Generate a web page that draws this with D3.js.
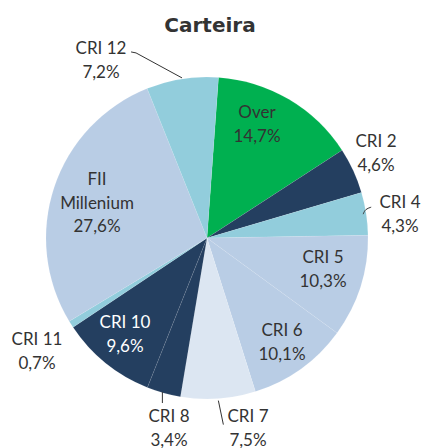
<!DOCTYPE html>
<html>
<head>
<meta charset="utf-8">
<script src="https://cdn.jsdelivr.net/npm/d3@7"></script>
<style>
  body { margin: 0; background: #fff; }
  text { font-family: Lato, "Open Sans", sans-serif; fill: #333; }
</style>
</head>
<body>
<script>
// Carteira - pie
var labels = ["Over", "CRI 2", "CRI 4", "CRI 5", "CRI 6", "CRI 7", "CRI 8", "CRI 10", "CRI 11", "FII Millenium", "CRI 12"];
var values = [14.7, 4.6, 4.3, 10.3, 10.1, 7.5, 3.4, 9.6, 0.7, 27.6, 7.2];
var valueText = ["14,7%", "4,6%", "4,3%", "10,3%", "10,1%", "7,5%", "3,4%", "9,6%", "0,7%", "27,6%", "7,2%"];

var palette = ["#00b050", "#243f60", "#92cddc", "#b9cde5", "#b9cde5", "#dce6f2", "#243f60", "#243f60", "#92cddc", "#b9cde5", "#92cddc"];

var width = 427, height = 448;
var cx = 207, cy = 238, r = 161;
var startDeg = 4.1;

// label placement, relative to the pie centre (first baseline)
var labelPos = {
  "Over":          [50, -120, "#333"],
  "CRI 2":         [169, -91, "#333"],
  "CRI 4":         [193, -30, "#333"],
  "CRI 5":         [116, 25, "#333"],
  "CRI 6":         [75, 98, "#333"],
  "CRI 7":         [41, 184, "#333"],
  "CRI 8":         [-38, 184, "#333"],
  "CRI 10":        [-82, 90, "#fff"],
  "CRI 11":        [-170, 107, "#333"],
  "FII Millenium": [-110, -53, "#333"],
  "CRI 12":        [-106, -184, "#333"]
};

var color = d3.scaleOrdinal(labels, palette);

var svg = d3.select("body").append("svg")
  .attr("width", width)
  .attr("height", height);

svg.append("text")
  .attr("x", 210)
  .attr("y", 32)
  .attr("text-anchor", "middle")
  .style("font-family", "'DejaVu Sans', sans-serif")
  .style("font-weight", "bold")
  .style("font-size", "20px")
  .style("fill", "#333")
  .text("Carteira");

var data = labels.map(function (d, i) { return { label: d, value: values[i], pct: valueText[i] }; });

var pie = d3.pie()
  .value(function (d) { return d.value; })
  .sort(null)
  .startAngle(startDeg * Math.PI / 180)
  .endAngle(startDeg * Math.PI / 180 + 2 * Math.PI);

var arcs = pie(data);

var arc = d3.arc().innerRadius(0).outerRadius(r);
var edge = function (rad) { return d3.arc().innerRadius(rad).outerRadius(rad); };

var g = svg.append("g").attr("transform", "translate(" + cx + "," + cy + ")");

g.selectAll("path.slice")
  .data(arcs)
  .enter()
  .append("path")
  .attr("class", "slice")
  .attr("d", arc)
  .attr("fill", function (d) { return color(d.data.label); })
  .attr("stroke", "#fff")
  .attr("stroke-opacity", 0.15)
  .attr("stroke-width", 0.5);

// leader lines
var byLabel = {};
arcs.forEach(function (a) { byLabel[a.data.label] = a; });

var line = d3.line();
var p12 = edge(r + 1).centroid(byLabel["CRI 12"]);
var p4 = edge(r - 3).centroid(byLabel["CRI 4"]);
var p7 = edge(r + 2).centroid(byLabel["CRI 7"]);
var p8 = edge(r + 1).centroid(byLabel["CRI 8"]);

var leaders = [
  [[p12[0], p12[1]], [p12[0] - 46, p12[1] - 25], [p12[0] - 51, p12[1] - 26]],
  [[p4[0], p4[1]], [p4[0] + 2, p4[1] - 5], [p4[0] + 8, p4[1] - 7]],
  [[p7[0], p7[1]], [p7[0] + 5, p7[1] + 24]],
  [[p8[0] - 1, p8[1] - 2], [p8[0] - 1, p8[1] + 9]]
];

g.selectAll("path.leader")
  .data(leaders)
  .enter()
  .append("path")
  .attr("class", "leader")
  .attr("d", function (d, i) { return i === 1 ? d3.line().curve(d3.curveBasis)(d) : line(d); })
  .attr("fill", "none")
  .attr("stroke", "#333")
  .attr("stroke-width", 1);

// labels
var lab = g.selectAll("text.lab")
  .data(arcs)
  .enter()
  .append("text")
  .attr("class", "lab")
  .attr("text-anchor", "middle")
  .style("font-size", "17px")
  .style("fill", function (d) { return labelPos[d.data.label][2]; })
  .attr("transform", function (d) {
    var p = labelPos[d.data.label];
    return "translate(" + p[0] + "," + p[1] + ")";
  });

lab.each(function (d) {
  var t = d3.select(this);
  var lines = d.data.label === "FII Millenium" ? ["FII", "Millenium", d.data.pct] : [d.data.label, d.data.pct];
  lines.forEach(function (s, i) {
    t.append("tspan").attr("x", 0).attr("y", i * 23.5).text(s);
  });
});
</script>
</body>
</html>
